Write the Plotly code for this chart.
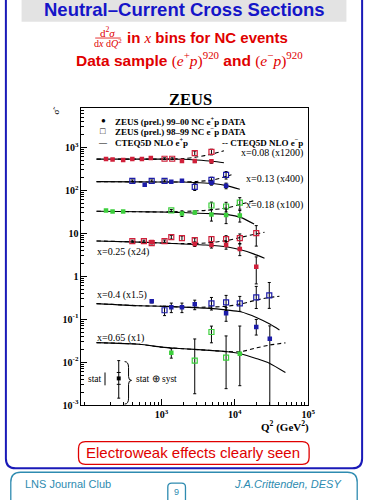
import plotly.graph_objects as go

W, H = 375, 500
def px(x): return x / W
def py(y): return 1 - y / H

SERIF = "Liberation Serif"
SANS = "Liberation Sans"
RED, BLUE, GREEN = "#d0203a", "#1c1ca8", "#3ccf3c"

# ---------------- data (Q2 in GeV^2, scaled cross sections) ----------------
# x = 0.08 (x1200)
q08_ep = [175, 215, 300, 400, 540, 715, 1900, 2840, 4800]
s08_ep = [530, 515, 502, 530, 530, 559, 477, 477, 470]
u08_ep = [0.03, 0.03, 0.03, 0.03, 0.03, 0.03, 0.06, 0.08, 0.10]
d08_ep = u08_ep
q08_em = [1100, 1400, 2840, 4800]
s08_em = [540, 540, 728, 780]
u08_em = [0.05, 0.05, 0.12, 0.15]
d08_em = u08_em
tq08 = [130, 500, 1000, 2000, 3000, 5000, 7100]
tp08 = [530, 530, 530, 525, 505, 470, 435]
tm08 = [530, 530, 530, 545, 590, 700, 830]

# x = 0.13 (x400)
q13_ep = [590, 1360, 1900, 4800, 7600]
s13_ep = [134, 157, 165, 149, 127]
u13_ep = [0.05, 0.05, 0.06, 0.12, 0.15]
d13_ep = u13_ep
q13_em = [400, 735, 1100, 2840, 4800, 7600]
s13_em = [165, 165, 165, 120, 174, 227]
u13_em = [0.05, 0.05, 0.05, 0.18, 0.15, 0.2]
d13_em = u13_em
tq13 = [130, 500, 1000, 2000, 3000, 5000, 8000, 11700]
tp13 = [158, 156, 155, 155, 150, 143, 126, 105]
tqm13 = [130, 500, 1000, 2000, 3000, 5000, 8000, 9000]
tm13 = [158, 156, 155, 156, 160, 172, 215, 228]

# x = 0.18 (x100)
q18_ep = [175, 215, 300, 1900, 2840, 4800, 7600, 11700]
s18_ep = [33.8, 32, 32, 28.8, 30.4, 27.3, 26.5, 25.9]
u18_ep = [0.04, 0.04, 0.04, 0.15, 0.08, 0.3, 0.37, 0.3]
d18_ep = u18_ep
q18_em = [1360, 4800, 7600, 11700]
s18_em = [33.8, 44, 41.8, 51.6]
u18_em = [0.05, 0.2, 0.25, 0.3]
d18_em = u18_em
tq18 = [130, 500, 1000, 2000, 4000, 8000, 12000, 18300]
tp18 = [32.5, 31.5, 31, 30.4, 28.8, 27, 23.3, 16.3]
tm18 = [32.5, 31.5, 31.2, 32, 34, 39, 47, 57]

# x = 0.25 (x24)
q25_ep = [735, 2840, 4800, 7600, 11700, 19600]
s25_ep = [6.21, 5.58, 5.3, 5.3, 4.29, 1.65]
u25_ep = [0.05, 0.12, 0.15, 0.2, 0.3, 0.7]
d25_ep = [0.05, 0.12, 0.15, 0.2, 0.3, 0.6]
q25_em = [400, 575, 735, 1100, 1360, 1900, 2840, 4800, 7600, 11700, 19600]
s25_em = [6.55, 6.55, 5.89, 6.55, 8.09, 7.67, 6.9, 7.28, 7.28, 7.67, 10]
u25_em = [0.05, 0.05, 0.05, 0.06, 0.1, 0.12, 0.12, 0.15, 0.2, 0.25, 0.5]
d25_em = u25_em
tq25 = [130, 500, 1000, 2000, 4000, 8000, 12000, 18000, 25400]
tp25 = [6.6, 6.2, 5.9, 5.6, 5.3, 4.75, 4.1, 3.3, 2.6]
tm25 = [6.6, 6.2, 5.9, 5.7, 5.9, 6.8, 8.0, 9.3, 10.5]

# x = 0.4 (x1.5)
q40_ep = [735, 1360, 1900, 2840, 7600, 19600, 30000]
s40_ep = [0.259, 0.189, 0.189, 0.221, 0.137, 0.0655, 0.035]
u40_ep = [0.08, 0.25, 0.25, 0.25, 0.35, 0.5, 0.99]
d40_ep = [0.08, 0.25, 0.25, 0.25, 0.35, 0.35, 0.999]
q40_em = [1100, 4800, 7600, 11700, 19600, 29500]
s40_em = [0.161, 0.233, 0.246, 0.233, 0.321, 0.356]
u40_em = [0.25, 0.37, 0.45, 0.45, 0.8, 1.0]
d40_em = [0.25, 0.3, 0.35, 0.35, 0.45, 0.5]
tq40 = [130, 500, 1000, 2000, 4000, 8000, 12000, 20000, 30000, 40600]
tp40 = [0.23, 0.205, 0.2, 0.19, 0.18, 0.162, 0.148, 0.108, 0.077, 0.056]
tm40 = [0.23, 0.205, 0.2, 0.19, 0.19, 0.2, 0.225, 0.28, 0.32, 0.34]

# x = 0.65 (x1)
q65_ep = [1360, 11700]
s65_ep = [0.0165, 0.0157]
u65_ep = [0.25, 3.4]
d65_ep = [0.25, 0.82]
q65_em = [2840, 4800, 7600]
s65_em = [0.0108, 0.0502, 0.0127]
u65_em = [2.2, 0.37, 2.2]
d65_em = [0.83, 0.44, 0.81]
tq65 = [130, 500, 1000, 2000, 4000, 8000, 12000, 20000, 30000, 49000]
tp65 = [0.0284, 0.026, 0.0223, 0.0205, 0.019, 0.0174, 0.0157, 0.012, 0.0093, 0.0057]
tm65 = [0.0284, 0.026, 0.0223, 0.0205, 0.019, 0.0176, 0.0175, 0.0215, 0.025, 0.028]

y_tickvals = [1e-3, 1e-2, 1e-1, 1, 10, 100, 1000]
y_ticktext = ["10<sup>-3</sup>", "10<sup>-2</sup>", "10<sup>-1</sup>", "1", "10",
              "10<sup>2</sup>", "10<sup>3</sup>"]
x_tickvals = [1e3, 1e4, 1e5]
x_ticktext = ["10<sup>3</sup>", "10<sup>4</sup>", "10<sup>5</sup>"]

bins = [
    (q08_ep, s08_ep, u08_ep, d08_ep, q08_em, s08_em, u08_em, d08_em, tq08, tp08, tq08, tm08, RED),
    (q13_ep, s13_ep, u13_ep, d13_ep, q13_em, s13_em, u13_em, d13_em, tq13, tp13, tqm13, tm13, BLUE),
    (q18_ep, s18_ep, u18_ep, d18_ep, q18_em, s18_em, u18_em, d18_em, tq18, tp18, tq18, tm18, GREEN),
    (q25_ep, s25_ep, u25_ep, d25_ep, q25_em, s25_em, u25_em, d25_em, tq25, tp25, tq25, tm25, RED),
    (q40_ep, s40_ep, u40_ep, d40_ep, q40_em, s40_em, u40_em, d40_em, tq40, tp40, tq40, tm40, BLUE),
    (q65_ep, s65_ep, u65_ep, d65_ep, q65_em, s65_em, u65_em, d65_em, tq65, tp65, tq65, tm65, GREEN),
]

fig = go.Figure()

for (qep, sep, uep, dep, qem, sem, uem, dem, tq, tp, tqm, tm, col) in bins:
    fig.add_trace(go.Scatter(x=tq, y=tp, mode="lines",
                             line=dict(color="black", width=1.1, shape="spline", smoothing=0.7)))
    fig.add_trace(go.Scatter(x=tqm, y=tm, mode="lines",
                             line=dict(color="black", width=1.1, dash="4px,3px", shape="spline", smoothing=0.7)))
    fig.add_trace(go.Scatter(
        x=qem, y=sem, mode="markers",
        marker=dict(symbol="square-open", size=5, color=col, line=dict(width=1.2, color=col)),
        error_y=dict(type="data", symmetric=False,
                     array=[v * r for v, r in zip(sem, uem)],
                     arrayminus=[v * min(r, 0.9995) for v, r in zip(sem, dem)],
                     color="black", thickness=1, width=1.5)))
    fig.add_trace(go.Scatter(
        x=qep, y=sep, mode="markers",
        marker=dict(symbol="square", size=4.5, color=col),
        error_y=dict(type="data", symmetric=False,
                     array=[v * r for v, r in zip(sep, uep)],
                     arrayminus=[v * min(r, 0.9995) for v, r in zip(sep, dep)],
                     color="black", thickness=1, width=1.5)))

x_minor = [m * 10 ** e for e in (1, 2, 3, 4) for m in range(2, 10)]
y_minor = [m * 10.0 ** e for e in (-3, -2, -1, 0, 1, 2, 3) for m in range(2, 10)]

axis_font = dict(family=SERIF, size=10, color="black", weight="bold")
fig.update_layout(
    width=W, height=H, autosize=False, showlegend=False,
    margin=dict(l=0, r=0, t=0, b=0),
    paper_bgcolor="white", plot_bgcolor="white",
    xaxis=dict(type="log", range=[1.908, 5.0], domain=[px(83), px(314)],
               showgrid=False, zeroline=False, showline=True, mirror=True,
               linecolor="black", linewidth=1,
               ticks="inside", ticklen=6, tickcolor="black",
               tickmode="array", tickvals=x_tickvals, ticktext=x_ticktext,
               tickfont=axis_font,
               minor=dict(ticks="inside", ticklen=3, tickcolor="black",
                          tickmode="array", tickvals=x_minor, showgrid=False)),
    yaxis=dict(type="log", range=[-3, 3.92], domain=[py(410), py(109)],
               showgrid=False, zeroline=False, showline=True, mirror=True,
               linecolor="black", linewidth=1,
               ticks="inside", ticklen=6, tickcolor="black",
               tickmode="array", tickvals=y_tickvals, ticktext=y_ticktext,
               tickfont=axis_font,
               minor=dict(ticks="inside", ticklen=3, tickcolor="black",
                          tickmode="array", tickvals=y_minor, showgrid=False)),
)

ann = []
def txt(x, y, text, size=9, color="black", family=SERIF, xanchor="center", **kw):
    ann.append(dict(x=px(x), y=py(y), xref="paper", yref="paper", text=text,
                    showarrow=False, xanchor=xanchor, yanchor="middle",
                    font=dict(family=family, size=size, color=color), **kw))

TRED = "#e00000"
TBLUE = "#1515c8"
TEAL = "#2e8bb0"
txt(188, 10, "<b>Neutral–Current Cross Sections</b>", size=18.5, color=TBLUE, family=SANS)
# fraction
txt(110, 32, "d<sup>2</sup><i>σ</i>", size=11, color=TRED)
txt(110, 44, "d<i>x</i> d<i>Q</i><sup>2</sup>", size=10, color=TRED)
txt(127, 38, "<b>in </b><span style='font-family:Liberation Serif'><i>x</i></span><b> bins for NC events</b>",
    size=15, color=TRED, family=SANS, xanchor="left")
txt(193, 60, "<b>Data sample </b><span style='font-family:Liberation Serif'>(<i>e</i><sup>+</sup><i>p</i>)<sup>920</sup></span>"
    "<b> and </b><span style='font-family:Liberation Serif'>(<i>e</i><sup>−</sup><i>p</i>)<sup>920</sup></span>",
    size=15.5, color=TRED, family=SANS)

txt(194, 101, "<b>ZEUS</b>", size=16.5)
txt(57, 112, "σ̃", size=9, textangle=-90)

# legend
txt(105, 122, "●", size=8)
txt(115, 122, "<b>ZEUS (prel.) 99–00 NC e<sup>+</sup>p DATA</b>", size=9, xanchor="left")
txt(105, 133, "□", size=9)
txt(115, 133, "<b>ZEUS (prel.) 98–99 NC e<sup>−</sup>p DATA</b>", size=9, xanchor="left")
txt(105, 144, "—", size=8)
txt(115, 144, "<b>CTEQ5D NLO e<sup>+</sup>p</b>", size=9, xanchor="left")
txt(311, 143.5, "<b>-- CTEQ5D NLO e<sup>−</sup>p</b>", size=9, xanchor="right")

# bin labels
txt(311, 154.5, "x=0.08 (x1200)", size=10, xanchor="right")
txt(311, 181, "x=0.13 (x400)", size=10, xanchor="right")
txt(311, 207, "x=0.18 (x100)", size=10, xanchor="right")
txt(97, 255, "x=0.25 (x24)", size=10, xanchor="left")
txt(97, 299, "x=0.4 (x1.5)", size=10, xanchor="left")
txt(97, 342, "x=0.65 (x1)", size=10, xanchor="left")

# stat key
txt(97, 384, "stat", size=9.5)
txt(159, 384, "stat ⊕ syst", size=9.5)
txt(290, 432, "<b>Q<sup>2</sup> (GeV<sup>2</sup>)</b>", size=11)

txt(197, 458, "Electroweak effects clearly seen", size=15, color=TRED, family=SANS)
txt(23, 490, "LNS Journal Club", size=11, color=TEAL, family=SANS, xanchor="left")
txt(350, 490, "<i>J.A.Crittenden, DESY</i>", size=11, color=TEAL, family=SANS, xanchor="right")
txt(180, 498, "9", size=9, color=TEAL, family=SANS)

fig.update_layout(annotations=ann)

shapes = []
def rect(x0, y0, x1, y1, **kw):
    shapes.append(dict(type="rect", xref="paper", yref="paper",
                       x0=px(x0), x1=px(x1), y0=py(y1), y1=py(y0), **kw))
def line(x0, y0, x1, y1, color="black", width=1, layer="above"):
    shapes.append(dict(type="line", xref="paper", yref="paper",
                       x0=px(x0), x1=px(x1), y0=py(y0), y1=py(y1),
                       line=dict(color=color, width=width), layer=layer))

def rounded(x0, y0, x1, y1, r, color, width):
    d = (f"M {px(x0+r)},{py(y0)} L {px(x1-r)},{py(y0)} Q {px(x1)},{py(y0)} {px(x1)},{py(y0+r)} "
         f"L {px(x1)},{py(y1-r)} Q {px(x1)},{py(y1)} {px(x1-r)},{py(y1)} "
         f"L {px(x0+r)},{py(y1)} Q {px(x0)},{py(y1)} {px(x0)},{py(y1-r)} "
         f"L {px(x0)},{py(y0+r)} Q {px(x0)},{py(y0)} {px(x0+r)},{py(y0)} Z")
    shapes.append(dict(type="path", xref="paper", yref="paper", path=d,
                       line=dict(color=color, width=width), layer="above"))

rect(22, 0, 353, 22, fillcolor="#e3e3e3", line=dict(width=0), layer="below")
line(110 - 13, 38.5, 110 + 13, 38.5, color=TRED, width=0.8)
rounded(6, -12, 369, 474, 10, "#1a1ab8", 2)
rounded(80, 447, 315, 470, 7, TRED, 1.3)
rounded(11, 478, 364, 520, 10, TEAL, 1.3)
rounded(171, 489, 189, 515, 4, TEAL, 1.3)

# stat key glyphs
line(107, 377, 107, 390)
line(121, 365, 121, 403)
line(119, 377, 123, 377)
line(119, 389, 123, 389)
line(119.5, 365, 122.5, 365)
line(119.5, 403, 122.5, 403)
rect(119, 381, 123, 385, fillcolor="black", line=dict(width=0), layer="above")
brace = (f"M {px(127)},{py(366)} Q {px(131)},{py(366)} {px(131)},{py(372)} L {px(131)},{py(381)} "
         f"Q {px(131)},{py(385)} {px(134)},{py(385)} Q {px(131)},{py(385)} {px(131)},{py(389)} "
         f"L {px(131)},{py(403)} Q {px(131)},{py(409)} {px(127)},{py(409)}")
shapes.append(dict(type="path", xref="paper", yref="paper", path=brace,
                   line=dict(color="black", width=1), layer="above"))

fig.update_layout(shapes=shapes)
fig.write_html("out.html", config={"displayModeBar": False},
               post_script="document.body.style.margin='0';document.body.style.overflow='hidden';")
